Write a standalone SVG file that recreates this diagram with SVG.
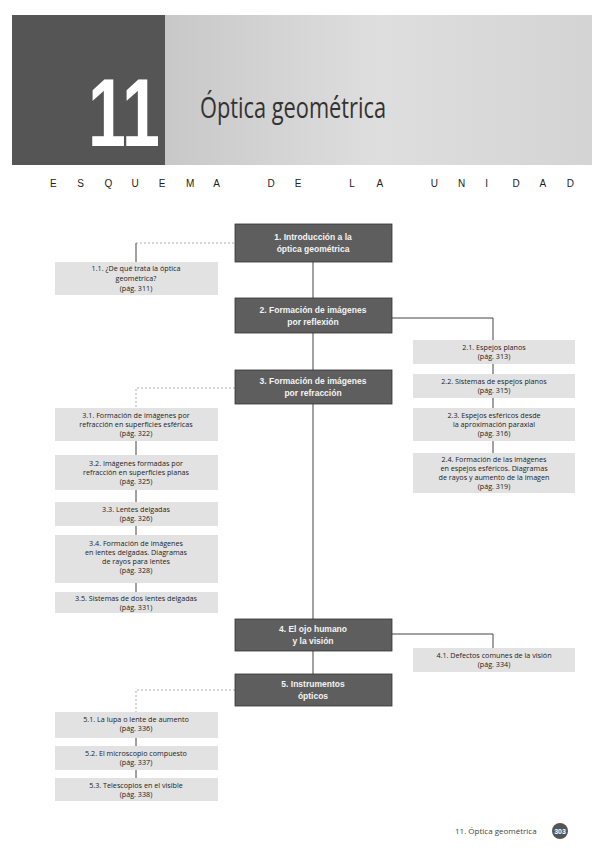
<svg xmlns="http://www.w3.org/2000/svg" width="604" height="848" viewBox="0 0 604 848">
<defs>
<linearGradient id="band" x1="0" y1="0" x2="1" y2="0">
<stop offset="0" stop-color="#c8c8c8"/><stop offset="0.5" stop-color="#dedede"/><stop offset="1" stop-color="#d4d4d4"/>
</linearGradient>
<style>
.main{fill:#5e5e5e;stroke:#333;stroke-width:0.8}
.sub{fill:#e2e2e2;stroke:none}
.mt{font-family:"Liberation Sans",Arial,sans-serif;font-size:8.5px;font-weight:bold;fill:#f4f4f4;text-anchor:middle}
.st{font-family:"Open Sans","Liberation Sans",sans-serif;font-size:7.2px;fill:#222;text-anchor:middle}
.ln{stroke:#444;stroke-width:1;fill:none}
.fl{stroke:#999;stroke-width:0.8;fill:none;stroke-dasharray:2 2}
</style>
</defs>
<rect width="604" height="848" fill="#ffffff"/>
<g id="header">
<rect x="165" y="15" width="427" height="150" fill="url(#band)"/>
<rect x="12" y="15" width="153" height="150" fill="#555555"/>
<text x="88" y="146" font-family="'Liberation Sans',Arial,sans-serif" font-weight="bold" font-size="96" fill="#ffffff" textLength="72" lengthAdjust="spacingAndGlyphs">11</text>
<text x="200" y="118" font-family="'Open Sans','Liberation Sans',sans-serif" font-size="30" fill="#333" textLength="186" lengthAdjust="spacingAndGlyphs">Óptica geométrica</text>
</g>
<g id="subtitle">
<text y="187" font-family="'Liberation Sans',Arial,sans-serif" font-size="10" fill="#222" x="50 77.2 104.4 131.6 158.8 186 213.2 240.4 267.6 294.8 322 349.2 376.4 403.6 430.8 458 485.2 512.4 539.6 566.8">ESQUEMA DE LA UNIDAD</text>
</g>
<g id="connectors">
<line class="ln" x1="313" y1="262" x2="313" y2="298"/>
<line class="ln" x1="313" y1="333" x2="313" y2="370"/>
<line class="ln" x1="313" y1="404" x2="313" y2="620"/>
<line class="ln" x1="313" y1="651" x2="313" y2="674"/>
<line class="fl" x1="136" y1="243" x2="235" y2="243"/>
<line class="ln" x1="136" y1="243" x2="136" y2="262"/>
<polyline class="ln" points="392,318 493,318 493,453"/>
<polyline class="fl" points="235,388 136,388 136,408"/>
<line class="ln" x1="136" y1="440" x2="136" y2="592"/>
<polyline class="ln" points="392,634 493,634 493,648"/>
<polyline class="fl" points="235,690 136,690 136,712"/>
<line class="ln" x1="136" y1="738" x2="136" y2="778"/>
</g>
<g id="n1"><rect class="main" x="235" y="224" width="157" height="38"/><text class="mt" x="313" y="240">1. Introducción a la</text><text class="mt" x="313" y="252">óptica geométrica</text></g>
<g id="n2"><rect class="main" x="235" y="298" width="157" height="35"/><text class="mt" x="313" y="313">2. Formación de imágenes</text><text class="mt" x="313" y="325">por reflexión</text></g>
<g id="n3"><rect class="main" x="235" y="370" width="157" height="34"/><text class="mt" x="313" y="384">3. Formación de imágenes</text><text class="mt" x="313" y="396">por refracción</text></g>
<g id="n4"><rect class="main" x="235" y="619" width="157" height="32"/><text class="mt" x="313" y="632">4. El ojo humano</text><text class="mt" x="313" y="644">y la visión</text></g>
<g id="n5"><rect class="main" x="235" y="674" width="157" height="32"/><text class="mt" x="313" y="687">5. Instrumentos</text><text class="mt" x="313" y="699">ópticos</text></g>
<g id="n1-1"><rect class="sub" x="55" y="262" width="163" height="33"/><text class="st" x="136" y="271">1.1. ¿De qué trata la óptica</text><text class="st" x="136" y="281">geométrica?</text><text class="st" x="136" y="291">(pág. 311)</text></g>
<g id="n2-1"><rect class="sub" x="413" y="340" width="162" height="24"/><text class="st" x="494" y="350">2.1. Espejos planos</text><text class="st" x="494" y="359">(pág. 313)</text></g>
<g id="n2-2"><rect class="sub" x="413" y="374" width="162" height="24"/><text class="st" x="494" y="384">2.2. Sistemas de espejos planos</text><text class="st" x="494" y="393">(pág. 315)</text></g>
<g id="n2-3"><rect class="sub" x="413" y="408" width="162" height="33"/><text class="st" x="494" y="418">2.3. Espejos esféricos desde</text><text class="st" x="494" y="427">la aproximación paraxial</text><text class="st" x="494" y="436">(pág. 316)</text></g>
<g id="n2-4"><rect class="sub" x="413" y="453" width="162" height="40"/><text class="st" x="494" y="462">2.4. Formación de las imágenes</text><text class="st" x="494" y="471">en espejos esféricos. Diagramas</text><text class="st" x="494" y="480">de rayos y aumento de la imagen</text><text class="st" x="494" y="489">(pág. 319)</text></g>
<g id="n3-1"><rect class="sub" x="55" y="408" width="163" height="33"/><text class="st" x="136" y="418">3.1. Formación de imágenes por</text><text class="st" x="136" y="427">refracción en superficies esféricas</text><text class="st" x="136" y="436">(pág. 322)</text></g>
<g id="n3-2"><rect class="sub" x="55" y="455" width="163" height="35"/><text class="st" x="136" y="466">3.2. Imágenes formadas por</text><text class="st" x="136" y="475">refracción en superficies planas</text><text class="st" x="136" y="484">(pág. 325)</text></g>
<g id="n3-3"><rect class="sub" x="55" y="502" width="163" height="24"/><text class="st" x="136" y="512">3.3. Lentes delgadas</text><text class="st" x="136" y="521">(pág. 326)</text></g>
<g id="n3-4"><rect class="sub" x="55" y="535" width="163" height="48"/><text class="st" x="136" y="546">3.4. Formación de imágenes</text><text class="st" x="136" y="555">en lentes delgadas. Diagramas</text><text class="st" x="136" y="564">de rayos para lentes</text><text class="st" x="136" y="573">(pág. 328)</text></g>
<g id="n3-5"><rect class="sub" x="55" y="592" width="163" height="21"/><text class="st" x="136" y="601">3.5. Sistemas de dos lentes delgadas</text><text class="st" x="136" y="610">(pág. 331)</text></g>
<g id="n4-1"><rect class="sub" x="413" y="648" width="162" height="24"/><text class="st" x="494" y="658">4.1. Defectos comunes de la visión</text><text class="st" x="494" y="667">(pág. 334)</text></g>
<g id="n5-1"><rect class="sub" x="55" y="712" width="163" height="26"/><text class="st" x="136" y="722">5.1. La lupa o lente de aumento</text><text class="st" x="136" y="731">(pág. 336)</text></g>
<g id="n5-2"><rect class="sub" x="55" y="746" width="163" height="24"/><text class="st" x="136" y="756">5.2. El microscopio compuesto</text><text class="st" x="136" y="765">(pág. 337)</text></g>
<g id="n5-3"><rect class="sub" x="55" y="778" width="163" height="23"/><text class="st" x="136" y="788">5.3. Telescopios en el visible</text><text class="st" x="136" y="797">(pág. 338)</text></g>
<g id="footer">
<text x="455" y="834" font-family="'Open Sans','Liberation Sans',sans-serif" font-size="8" fill="#444">11. Óptica geométrica</text>
<circle cx="560" cy="831" r="8" fill="#555"/>
<text x="560" y="834" text-anchor="middle" font-family="'Liberation Sans',Arial,sans-serif" font-size="7" font-weight="bold" fill="#fff">303</text>
</g>
</svg>
